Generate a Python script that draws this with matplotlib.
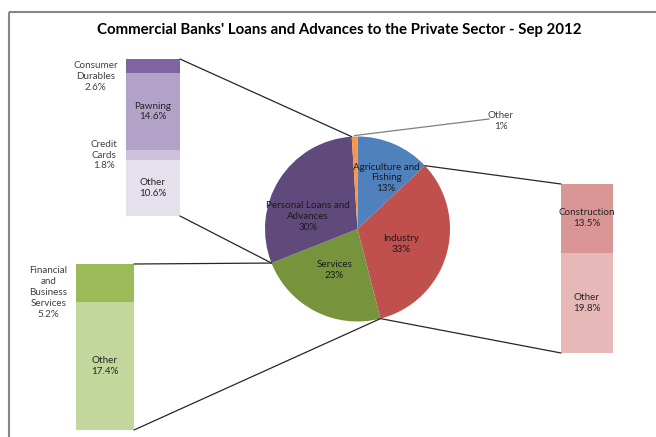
import matplotlib
matplotlib.use("Agg")
import matplotlib.pyplot as plt
from matplotlib.patches import ConnectionPatch
import numpy as np

plt.rcParams['font.family'] = ['Lato', 'DejaVu Sans']

# ---- data ----
sectors = ["Agriculture and\nFishing", "Industry", "Services",
           "Personal Loans and\nAdvances", "Other"]
sector_share = [13, 33, 23, 30, 1]
sector_colors = ["#4F81BD", "#C0504D", "#77933C", "#604A7B", "#F79646"]

personal_parts = ["Consumer\nDurables", "Pawning", "Credit\nCards", "Other"]
personal_share = [2.6, 14.6, 1.8, 10.6]
personal_colors = ["#8064A2", "#B3A2C7", "#CCC1DA", "#E6E0EC"]
personal_inside = [False, True, False, True]

services_parts = ["Financial\nand\nBusiness\nServices", "Other"]
services_share = [5.2, 17.4]
services_colors = ["#9BBB59", "#C3D69B"]
services_inside = [False, True]

industry_parts = ["Construction", "Other"]
industry_share = [13.5, 19.8]
industry_colors = ["#D99694", "#E6B9B8"]
industry_inside = [True, True]

title = "Commercial Banks' Loans and Advances to the Private Sector - Sep 2012"

# ---- layout (pixels, image coordinates with y downward) ----
W, H = 656, 437
DPI = 100
FS = 7.1
LS = 1.28
fig = plt.figure(figsize=(W / DPI, H / DPI), dpi=DPI)
fig.patch.set_facecolor("white")

ax = fig.add_axes([0, 0, 1, 1])
ax.set_xlim(0, W)
ax.set_ylim(0, H)
ax.axis("off")


def Y(y):
    return H - y


# outer chart frame
ax.plot([9, W + 5], [Y(12), Y(12)], color="#868686", lw=1.5, solid_capstyle="butt")
ax.plot([9, 9], [Y(12), Y(H + 5)], color="#868686", lw=1.5, solid_capstyle="butt")

ax.text(339, Y(30), title, ha="center", va="center", fontsize=10.8,
        fontweight="bold", color="#000000")

# ---- pie ----
cx, cy, R = 357.5, Y(229), 92.5
wedges, _ = ax.pie(sector_share, colors=sector_colors, startangle=90,
                   counterclock=False, center=(cx, cy), radius=R, frame=True,
                   wedgeprops=dict(linewidth=0))
ax.set_xlim(0, W)
ax.set_ylim(0, H)
ax.set_aspect("auto")
ax.axis("off")

total = float(sum(sector_share))
cum = np.concatenate([[0], np.cumsum(sector_share)])


def edge_point(frac, r=R):
    a = np.deg2rad(90 - 360 * frac)
    return cx + r * np.cos(a), cy + r * np.sin(a)


# in-slice labels (pixel offsets from the pie centre)
label_offsets = [(28.5, -51), (43.2, 15), (-23.2, 41), (-49.2, -12.3)]
for i in range(4):
    dx, dy = label_offsets[i]
    ax.text(cx + dx, cy - dy, f"{sectors[i]}\n{sector_share[i]}%",
            ha="center", va="center", fontsize=FS, color="#1a1a1a",
            linespacing=LS)

# leader for the small "Other" slice
mid = (cum[4] + cum[5]) / 2 / total
p0 = edge_point(mid, R + 1)
ax.plot([p0[0], 489], [p0[1], Y(119)], color="#7f7f7f", lw=0.9)
ax.text(501, Y(121), f"{sectors[4]}\n{sector_share[4]}%", ha="center",
        va="center", fontsize=FS, color="#404040", linespacing=LS)


# ---- breakdown bars ----
def bar_axes(left, top, right, bottom):
    bax = fig.add_axes([left / W, (H - bottom) / H, (right - left) / W,
                        (bottom - top) / H])
    bax.axis("off")
    return bax


def draw_stack(bax, names, shares, colors, inside, outside_va):
    tot = sum(shares)
    bottom = tot
    for name, s, c, ins in zip(names, shares, colors, inside):
        bottom -= s
        bax.bar(0, s, width=1.0, bottom=bottom, color=c, linewidth=0)
        lab = f"{name}\n{s}%"
        if ins:
            bax.text(0, bottom + s / 2, lab, ha="center", va="center",
                     fontsize=FS, color="#262626", linespacing=LS)
        else:
            va = outside_va.get(name, "center")
            yy = bottom + s if va == "top" else bottom + s / 2
            off = -1.5 if va == "top" else 0
            bax.annotate(lab, xy=(-0.5, yy), xytext=(-6, off),
                         textcoords="offset points", ha="right", va=va,
                         multialignment="center", fontsize=FS,
                         color="#404040", linespacing=LS)
    bax.set_xlim(-0.5, 0.5)
    bax.set_ylim(0, tot)
    return tot


pax = bar_axes(126, 59, 180, 216)
ptot = draw_stack(pax, personal_parts, personal_share, personal_colors,
                  personal_inside, {"Consumer\nDurables": "top"})

sax = bar_axes(76, 264, 134, 430)
stot = draw_stack(sax, services_parts, services_share, services_colors,
                  services_inside, {"Financial\nand\nBusiness\nServices": "top"})

iax = bar_axes(561, 184, 613, 353)
itot = draw_stack(iax, industry_parts, industry_share, industry_colors,
                  industry_inside, {})


def connect(bax, xy_bar, frac):
    con = ConnectionPatch(xyA=xy_bar, coordsA=bax.transData,
                          xyB=edge_point(frac), coordsB=ax.transData,
                          color="#262626", lw=0.9)
    fig.add_artist(con)


# personal loans slice -> its breakdown
connect(pax, (0.5, ptot), cum[4] / total)
connect(pax, (0.5, 0), cum[3] / total)
# services slice -> its breakdown
connect(sax, (0.5, stot), cum[3] / total)
connect(sax, (0.5, 0), cum[2] / total)
# industry slice -> its breakdown
connect(iax, (-0.5, itot), cum[1] / total)
connect(iax, (-0.5, 0), cum[2] / total)

fig.savefig("out.png", dpi=DPI, facecolor="white")
